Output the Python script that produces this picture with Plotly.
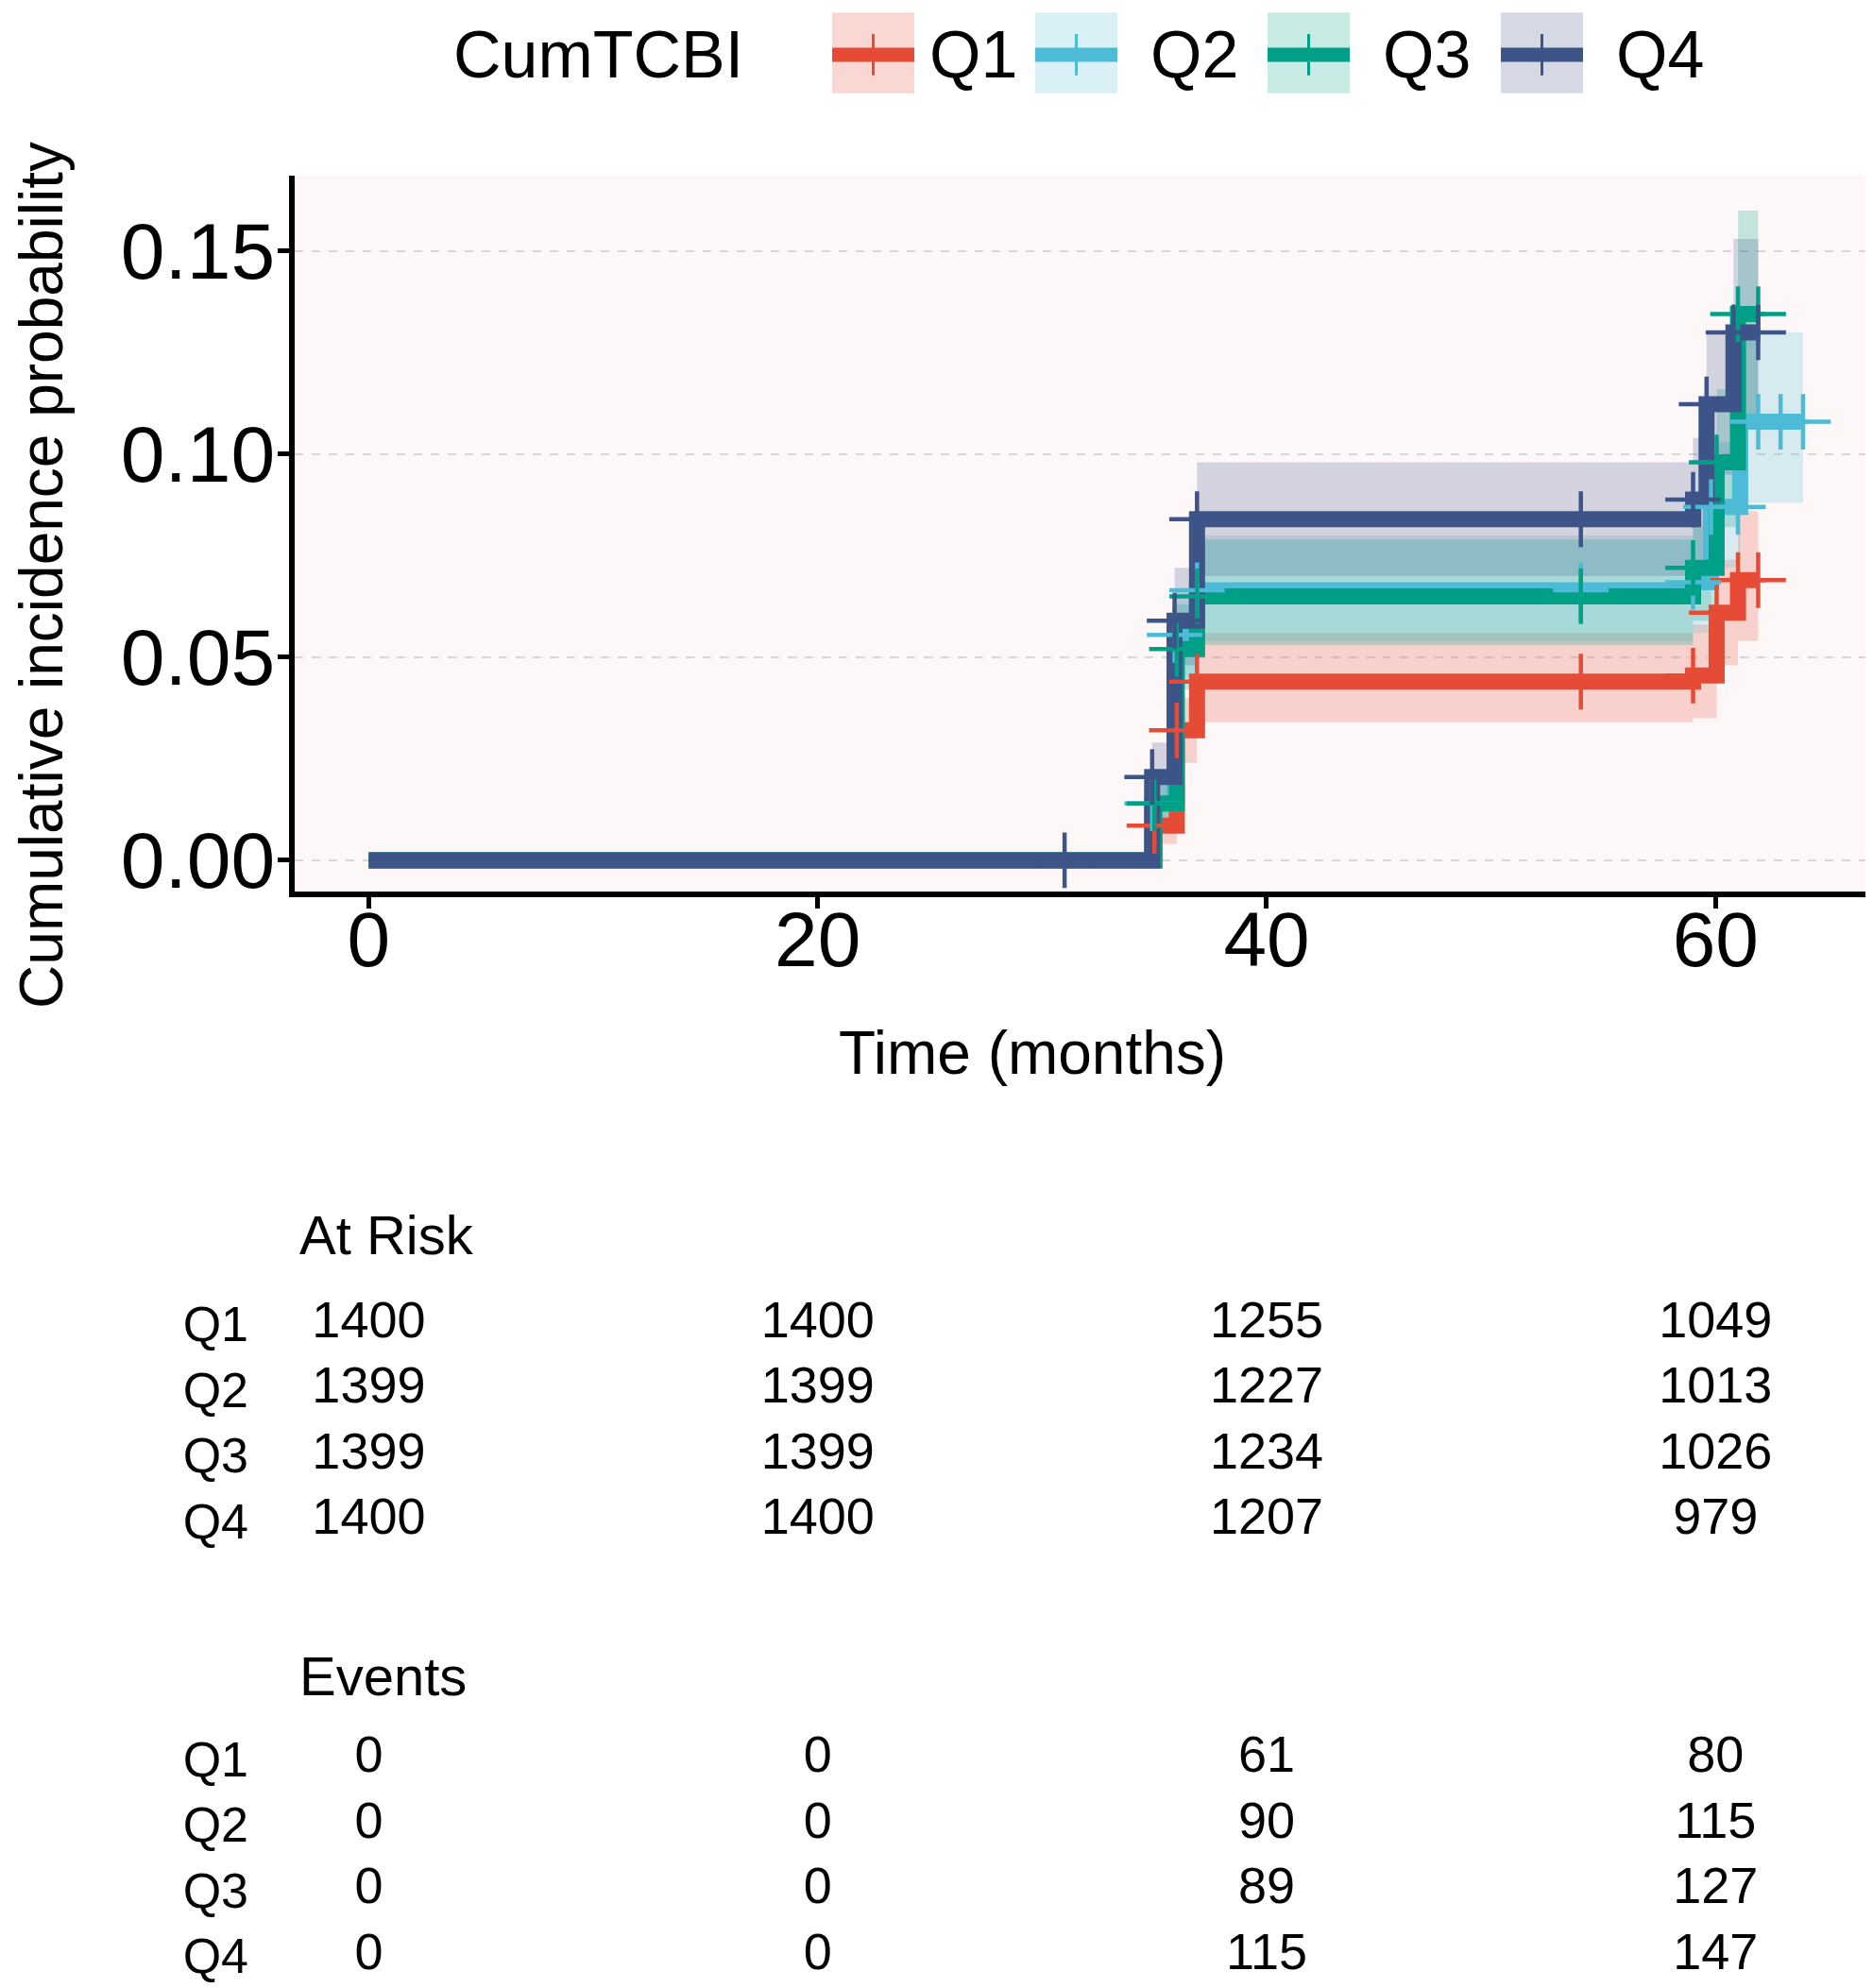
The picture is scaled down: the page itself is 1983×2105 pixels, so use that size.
import numpy as np
import plotly.graph_objects as go

# ---- data ----
groups = ['Q1', 'Q2', 'Q3', 'Q4']
colors = ['#E64B35', '#4DBBD5', '#00A087', '#3C5488']

# step times (months) and cumulative incidence
times = {
    'Q1': [0, 35.0, 36.0, 36.9, 59.0, 60.05, 61.0, 61.9],
    'Q2': [0, 34.9, 35.9, 36.9, 59.0, 59.8, 61.1, 63.9],
    'Q3': [0, 35.0, 36.0, 36.9, 59.0, 60.05, 61.0, 61.9],
    'Q4': [0, 34.9, 35.9, 36.9, 59.0, 59.6, 60.8, 61.9],
}
cif = {
    'Q1': [0, 0.0085, 0.032, 0.044, 0.0455, 0.061, 0.069, 0.069],
    'Q2': [0, 0.014, 0.0555, 0.0665, 0.0685, 0.087, 0.108, 0.108],
    'Q3': [0, 0.014, 0.052, 0.065, 0.072, 0.098, 0.1345, 0.1345],
    'Q4': [0, 0.0205, 0.059, 0.084, 0.0888, 0.1123, 0.130, 0.130],
}
ci_low = {
    'Q1': [0, 0.004, 0.024, 0.034, 0.035, 0.048, 0.054, 0.054],
    'Q2': [0, 0.007, 0.045, 0.054, 0.056, 0.072, 0.088, 0.088],
    'Q3': [0, 0.007, 0.042, 0.053, 0.059, 0.082, 0.110, 0.110],
    'Q4': [0, 0.012, 0.048, 0.070, 0.074, 0.095, 0.110, 0.110],
}
ci_high = {
    'Q1': [0, 0.013, 0.040, 0.056, 0.058, 0.074, 0.086, 0.086],
    'Q2': [0, 0.021, 0.067, 0.080, 0.082, 0.103, 0.130, 0.130],
    'Q3': [0, 0.021, 0.063, 0.079, 0.087, 0.116, 0.160, 0.160],
    'Q4': [0, 0.029, 0.072, 0.098, 0.104, 0.130, 0.153, 0.153],
}
# censoring marks (months)
censor = {
    'Q1': [35.0, 36.0, 36.9, 54.0, 59.0, 60.05, 61.0, 61.9],
    'Q2': [34.9, 35.9, 36.9, 54.0, 59.0, 59.8, 61.0, 61.9, 62.9, 63.9],
    'Q3': [35.0, 36.0, 36.9, 54.0, 59.0, 60.05, 61.0, 61.9],
    'Q4': [31.0, 34.9, 35.9, 36.9, 54.0, 59.0, 59.6, 60.8, 61.9],
}

table_times = [0, 20, 40, 60]
at_risk = {
    'Q1': [1400, 1400, 1255, 1049],
    'Q2': [1399, 1399, 1227, 1013],
    'Q3': [1399, 1399, 1234, 1026],
    'Q4': [1400, 1400, 1207, 979],
}
events = {
    'Q1': [0, 0, 61, 80],
    'Q2': [0, 0, 90, 115],
    'Q3': [0, 0, 89, 127],
    'Q4': [0, 0, 115, 147],
}

# ---- layout constants (pixels) ----
W, H = 1983, 2105
ML, MR, MT, MB = 304, 6, 178, 0
FONT = 'Liberation Sans, Arial, sans-serif'


def px(xp):
    return (xp - ML) / (W - ML - MR)


def py(yp):
    return (H - MB - yp) / (H - MT - MB)


def rgba(hex_color, a):
    h = hex_color.lstrip('#')
    r, g, b = int(h[0:2], 16), int(h[2:4], 16), int(h[4:6], 16)
    return f'rgba({r},{g},{b},{a})'


fig = go.Figure()

# confidence bands
for g, c in zip(groups, colors):
    fig.add_trace(go.Scatter(x=times[g], y=ci_low[g], mode='lines', line=dict(width=0, shape='hv'),
                             showlegend=False, hoverinfo='skip'))
    fig.add_trace(go.Scatter(x=times[g], y=ci_high[g], mode='lines', line=dict(width=0, shape='hv'),
                             fill='tonexty', fillcolor=rgba(c, 0.22), showlegend=False, hoverinfo='skip'))

# step curves
for g, c in zip(groups, colors):
    fig.add_trace(go.Scatter(x=times[g], y=cif[g], mode='lines', name=g,
                             line=dict(color=c, width=17, shape='hv'), showlegend=False))

# censoring crosses
for g, c in zip(groups, colors):
    t = np.array(times[g])
    v = np.array(cif[g])
    idx = np.searchsorted(t, censor[g], side='right') - 1
    fig.add_trace(go.Scatter(x=censor[g], y=v[idx], mode='markers', showlegend=False,
                             marker=dict(symbol='cross-thin', size=42, line=dict(width=4.5, color=c))))

# risk tables
for k, g in enumerate(groups):
    fig.add_trace(go.Scatter(x=table_times, y=[k + 1] * 4, mode='text', text=[str(n) for n in at_risk[g]],
                             textfont=dict(size=54, color='black', family=FONT), xaxis='x2', yaxis='y2',
                             showlegend=False, cliponaxis=False))
    fig.add_trace(go.Scatter(x=table_times, y=[k + 1] * 4, mode='text', text=[str(n) for n in events[g]],
                             textfont=dict(size=54, color='black', family=FONT), xaxis='x3', yaxis='y3',
                             showlegend=False, cliponaxis=False))

xrange = [-3.3, 67.1]
fig.update_layout(
    width=W, height=H,
    margin=dict(l=ML, r=MR, t=MT, b=MB, pad=0),
    paper_bgcolor='white',
    plot_bgcolor='rgba(0,0,0,0)',
    font=dict(family=FONT, color='black'),
    showlegend=False,
    xaxis=dict(range=xrange, tickvals=[0, 20, 40, 60], showgrid=False, zeroline=False,
               showline=True, linecolor='black', linewidth=6, ticks='outside', ticklen=12,
               tickwidth=5, tickcolor='black', tickfont=dict(size=82, family=FONT),
               ticklabelstandoff=-38, anchor='y', domain=[0, 1]),
    yaxis=dict(range=[-0.0078, 0.1686], tickvals=[0, 0.05, 0.10, 0.15], tickformat='.2f',
               showgrid=True, gridcolor='#D6D6D6', griddash='dash', gridwidth=2, zeroline=False,
               showline=True, linecolor='black', linewidth=6, ticks='outside', ticklen=12,
               tickwidth=5, tickcolor='black', tickfont=dict(size=84, family=FONT),
               ticklabelstandoff=-14, domain=[py(942), 1], anchor='x'),
    xaxis2=dict(range=xrange, visible=False, anchor='y2', domain=[0, 1]),
    yaxis2=dict(range=[4.5, 0.5], tickvals=[1, 2, 3, 4], ticktext=groups, showgrid=False,
                zeroline=False, showline=False, ticks='', tickfont=dict(size=52, family=FONT),
                ticklabelstandoff=48, domain=[py(1648), py(1368)], anchor='x2'),
    xaxis3=dict(range=xrange, visible=False, anchor='y3', domain=[0, 1]),
    yaxis3=dict(range=[4.4, 0.5], tickvals=[1, 2, 3, 4], ticktext=groups, showgrid=False,
                zeroline=False, showline=False, ticks='', tickfont=dict(size=52, family=FONT),
                ticklabelstandoff=48, domain=[py(2105), py(1832)], anchor='x3'),
)

annotations = [
    dict(text='Cumulative incidence probability', x=px(36), y=py(604), textangle=-90,
         font=dict(size=64)),
    dict(text='Time (months)', x=px(1085), y=py(1114), font=dict(size=64)),
    dict(text='At Risk', x=px(307), y=py(1308), xanchor='left', font=dict(size=58)),
    dict(text='Events', x=px(307), y=py(1778), xanchor='left', font=dict(size=58)),
    dict(text='CumTCBI', x=px(470), y=py(49), xanchor='left', font=dict(size=70)),
]

# panel background only behind the curve plot
shapes = [dict(type='rect', xref='x domain', yref='y domain', x0=0, x1=1, y0=0, y1=1,
               fillcolor='#FDF8F7', line=dict(width=0), layer='below')]

# legend keys drawn by hand to mimic ggplot keys
key_left = [873, 1088, 1334, 1581]
label_left = [974, 1208, 1454, 1701]
for g, c, kl, ll in zip(groups, colors, key_left, label_left):
    shapes.append(dict(type='rect', xref='paper', yref='paper', x0=px(kl), x1=px(kl + 87),
                       y0=py(90), y1=py(4), fillcolor=rgba(c, 0.22), line=dict(width=0), layer='above'))
    shapes.append(dict(type='line', xref='paper', yref='paper', x0=px(kl), x1=px(kl + 87),
                       y0=py(49), y1=py(49), line=dict(color=c, width=15), layer='above'))
    shapes.append(dict(type='line', xref='paper', yref='paper', x0=px(kl + 43.5), x1=px(kl + 43.5),
                       y0=py(27), y1=py(71), line=dict(color=c, width=3), layer='above'))
    annotations.append(dict(text=g, x=px(ll), y=py(49), xanchor='left', font=dict(size=70)))

for a in annotations:
    a.update(xref='paper', yref='paper', showarrow=False, yanchor=a.get('yanchor', 'middle'))
    a.setdefault('xanchor', 'center')

fig.update_layout(annotations=annotations, shapes=shapes)

fig.write_html('out.html')
